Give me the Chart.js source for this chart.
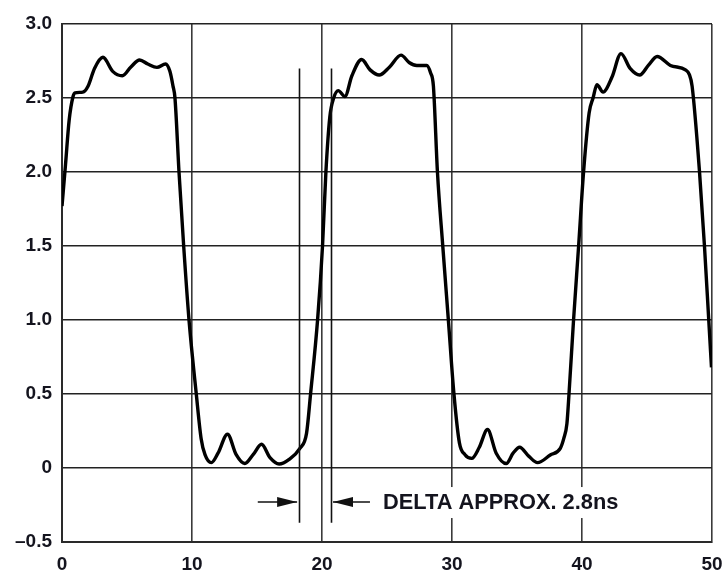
<!DOCTYPE html>
<html lang="en">
<head>
    <meta charset="UTF-8">
    <title>Delta waveform</title>
    <script src="https://cdn.jsdelivr.net/npm/chart.js"></script>
    <style>
        body { margin: 0; background: #fff; }
        #wave { display: block; }
    </style>
</head>
<body>
    <canvas id="wave" width="723" height="571"></canvas>

    <script>
        // waveform (time in ns, volts)
        const timeNs = [
            0, 0.27, 0.55, 0.85, 1.0, 1.6, 2.0, 2.5, 3.15, 3.9, 4.64, 5.3, 5.97, 6.6, 7.3, 7.97, 8.3, 8.54,
            8.69, 9.0, 9.36, 9.77, 10.33, 10.7, 11.0, 11.49, 12.0, 12.73, 13.4, 14.06, 14.7, 15.35, 16.0,
            16.7, 17.5, 18.3, 18.81, 19.12, 19.66, 20.04, 20.3, 20.6, 20.9, 21.25, 21.76, 22.3, 23.05,
            23.7, 24.4, 25.2, 26.08, 26.7, 27.29, 28.06, 28.35, 28.57, 28.88, 29.29, 29.72, 30.15, 30.57,
            31.0, 31.52, 32.1, 32.73, 33.4, 34.17, 34.7, 35.2, 35.9, 36.58, 37.56, 38.33, 38.6, 38.84,
            39.0, 39.35, 39.74, 40.12, 40.55, 40.85, 41.15, 41.62, 42.3, 43.0, 43.7, 44.44, 45.1, 45.78,
            46.8, 47.96, 48.25, 48.47, 49.04, 49.42, 49.75, 49.96
        ];
        const volts = [
            1.77, 2.05, 2.35, 2.51, 2.535, 2.54, 2.58, 2.70, 2.775, 2.68, 2.65, 2.71, 2.757, 2.73, 2.707, 2.73, 2.68, 2.58,
            2.5, 2.0, 1.5, 1.0, 0.5, 0.2, 0.09, 0.036, 0.1, 0.228, 0.09, 0.03, 0.09, 0.16, 0.07,
            0.027, 0.06, 0.133, 0.234, 0.5, 1.0, 1.5, 2.0, 2.37, 2.5, 2.55, 2.51, 2.65, 2.76,
            2.69, 2.655, 2.71, 2.79, 2.74, 2.72, 2.72, 2.67, 2.58, 2.0, 1.5, 1.0, 0.5, 0.17,
            0.09, 0.065, 0.14, 0.26, 0.1, 0.03, 0.1, 0.14, 0.08, 0.036, 0.088, 0.133, 0.2, 0.30,
            0.5, 1.0, 1.5, 2.0, 2.4, 2.5, 2.59, 2.54, 2.64, 2.80, 2.7, 2.655, 2.72, 2.78,
            2.72, 2.69, 2.66, 2.58, 2.0, 1.5, 1.0, 0.68
        ];

        const xTicks = [0, 10, 20, 30, 40, 50];
        const yTickValues = [-0.5, 0, 0.5, 1.0, 1.5, 2.0, 2.5, 3.0];
        const yTickLabels = ['\u20130.5', '0', '0.5', '1.0', '1.5', '2.0', '2.5', '3.0'];

        // delta markers, in data units
        const markerTimes = [18.24, 20.69];
        const markerSpan = [-0.37, 2.70];
        const arrowLevel = -0.23;
        const arrowLeft = [15.06, 18.24];
        const arrowRight = [23.69, 20.69];
        const deltaText = 'DELTA APPROX. 2.8ns';
        const deltaTextAt = 24.69;

        const inkColor = '#14141e';
        const tickFont = { family: '"Liberation Sans", Arial, sans-serif', size: 19, weight: 'bold' };

        const deltaPlugin = {
            id: 'deltaMarks',
            afterDatasetsDraw(chart) {
                const ctx = chart.ctx;
                const xs = chart.scales.x;
                const ys = chart.scales.y;
                const yArrow = ys.getPixelForValue(arrowLevel);

                ctx.save();
                ctx.font = 'bold 21.8px "Liberation Sans", Arial, sans-serif';
                const tx = xs.getPixelForValue(deltaTextAt);
                const tw = ctx.measureText(deltaText).width;
                // clear the grid behind the label
                ctx.fillStyle = '#fff';
                ctx.fillRect(tx - 3, yArrow - 15, tw + 6, 31);
                ctx.fillStyle = inkColor;
                ctx.textBaseline = 'middle';
                ctx.fillText(deltaText, tx, yArrow + 1);

                ctx.strokeStyle = '#111';
                ctx.lineWidth = 1.6;
                markerTimes.forEach(t => {
                    const px = Math.round(xs.getPixelForValue(t)) + 0.5;
                    ctx.beginPath();
                    ctx.moveTo(px, ys.getPixelForValue(markerSpan[0]));
                    ctx.lineTo(px, ys.getPixelForValue(markerSpan[1]));
                    ctx.stroke();
                });

                [arrowLeft, arrowRight].forEach(a => {
                    const x0 = xs.getPixelForValue(a[0]);
                    const x1 = xs.getPixelForValue(a[1]) + (a[0] < a[1] ? -2 : 2);
                    const dir = x1 > x0 ? 1 : -1;
                    ctx.beginPath();
                    ctx.moveTo(x0, yArrow);
                    ctx.lineTo(x1, yArrow);
                    ctx.stroke();
                    ctx.beginPath();
                    ctx.moveTo(x1, yArrow);
                    ctx.lineTo(x1 - dir * 20, yArrow - 5);
                    ctx.lineTo(x1 - dir * 20, yArrow + 5);
                    ctx.closePath();
                    ctx.fillStyle = '#111';
                    ctx.fill();
                });
                ctx.restore();
            }
        };

        const points = timeNs.map((t, i) => ({ x: t, y: volts[i] }));

        new Chart(document.getElementById('wave'), {
            type: 'line',
            data: {
                datasets: [{
                    data: points,
                    borderColor: '#000',
                    borderWidth: 3.4,
                    pointRadius: 0,
                    fill: false,
                    cubicInterpolationMode: 'monotone'
                }]
            },
            options: {
                responsive: false,
                animation: false,
                layout: { padding: { top: 24, right: 11, bottom: 0, left: 0 } },
                plugins: {
                    legend: { display: false },
                    tooltip: { enabled: false }
                },
                scales: {
                    x: {
                        type: 'linear',
                        min: 0,
                        max: 50,
                        afterFit: s => {
                            s.height = 29;
                            s.paddingLeft = 0;
                            s.paddingRight = 0;
                        },
                        afterBuildTicks: s => { s.ticks = xTicks.map(v => ({ value: v })); },
                        grid: { color: '#3a3a3a', lineWidth: 1.6, drawTicks: false },
                        border: { color: '#2a2a2a', width: 2 },
                        ticks: {
                            padding: 11,
                            color: inkColor,
                            font: tickFont
                        }
                    },
                    y: {
                        min: -0.5,
                        max: 3.0,
                        afterFit: s => { s.width = 62; },
                        afterBuildTicks: s => { s.ticks = yTickValues.map(v => ({ value: v })); },
                        grid: { color: '#222', lineWidth: 1.6, drawTicks: false },
                        border: { color: '#2a2a2a', width: 2 },
                        ticks: {
                            padding: 10,
                            color: inkColor,
                            font: tickFont,
                            callback: v => yTickLabels[yTickValues.indexOf(v)]
                        }
                    }
                }
            },
            plugins: [deltaPlugin]
        });
    </script>
</body>
</html>
